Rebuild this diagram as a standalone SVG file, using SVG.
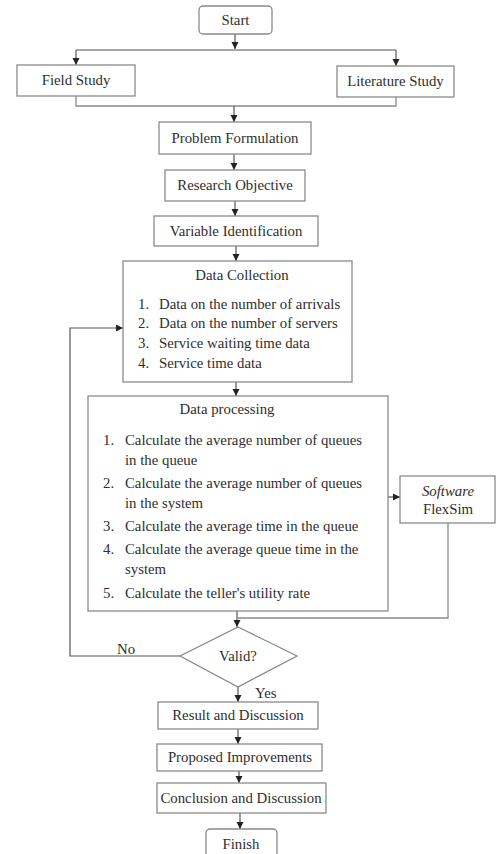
<svg xmlns="http://www.w3.org/2000/svg" width="496" height="854" viewBox="0 0 496 854">
<defs>
<marker id="ah" markerWidth="8" markerHeight="8" refX="7" refY="4" orient="auto" markerUnits="userSpaceOnUse">
<path d="M0,0.5 L7,4 L0,7.5 Z" fill="#222"/>
</marker>
</defs>
<style>
.b{fill:#fff;stroke:#8a8a8a;stroke-width:1.3}
text{font-family:'Liberation Serif','Times New Roman',Times,serif;font-size:14.8px;fill:#2e2e2e}
.c{text-anchor:middle}
.l{fill:none;stroke:#8a8a8a;stroke-width:1.3}
.a{fill:none;stroke:#555;stroke-width:1.2;marker-end:url(#ah)}
</style>
<rect width="496" height="854" fill="#fff"/>
<g id="connectors">
<line class="a" x1="235" y1="34" x2="235" y2="49"/>
<polyline class="l" points="76,50 396,50"/>
<line class="a" x1="76" y1="50" x2="76" y2="65"/>
<line class="a" x1="396" y1="50" x2="396" y2="66"/>
<polyline class="l" points="76,96 76,106 396,106 396,97"/>
<line class="a" x1="234" y1="106" x2="234" y2="122"/>
<line class="a" x1="234" y1="154" x2="234" y2="170"/>
<line class="a" x1="235" y1="201" x2="235" y2="216"/>
<line class="a" x1="236" y1="246" x2="236" y2="261"/>
<line class="a" x1="236" y1="382" x2="236" y2="396"/>
<line class="a" x1="388" y1="497" x2="400" y2="497"/>
<polyline class="l" points="448,523 448,618 238,618"/>
<line class="a" x1="237" y1="611" x2="237" y2="627"/>
<polyline class="a" points="180,656 70,656 70,328 123,328"/>
<line class="a" x1="238" y1="687" x2="238" y2="702"/>
<line class="a" x1="238" y1="729" x2="238" y2="744"/>
<line class="a" x1="239" y1="771" x2="239" y2="783"/>
<line class="a" x1="240" y1="813" x2="240" y2="829"/>
</g>
<g id="start"><rect class="b" x="199" y="6" width="73" height="28" rx="4"/><text class="c" x="235.5" y="25">Start</text></g>
<g id="field"><rect class="b" x="17" y="65" width="118" height="31"/><text class="c" x="76" y="85">Field Study</text></g>
<g id="literature"><rect class="b" x="337" y="66" width="117" height="31"/><text class="c" x="395.5" y="86">Literature Study</text></g>
<g id="problem"><rect class="b" x="159" y="122" width="152" height="32"/><text class="c" x="235" y="143">Problem Formulation</text></g>
<g id="objective"><rect class="b" x="165" y="170" width="140" height="31"/><text class="c" x="235" y="190">Research Objective</text></g>
<g id="variable"><rect class="b" x="154" y="216" width="164" height="30"/><text class="c" x="236" y="236">Variable Identification</text></g>
<g id="collection"><rect class="b" x="123" y="261" width="229" height="121"/>
<text class="c" x="242" y="280">Data Collection</text>
<text x="138" y="309">1.</text><text x="159" y="309">Data on the number of arrivals</text>
<text x="138" y="328">2.</text><text x="159" y="328">Data on the number of servers</text>
<text x="138" y="348">3.</text><text x="159" y="348">Service waiting time data</text>
<text x="138" y="368">4.</text><text x="159" y="368">Service time data</text>
</g>
<g id="processing"><rect class="b" x="88" y="396" width="300" height="215"/>
<text class="c" x="227" y="414">Data processing</text>
<text x="103" y="445">1.</text><text x="125" y="445">Calculate the average number of queues</text>
<text x="125" y="465">in the queue</text>
<text x="103" y="488">2.</text><text x="125" y="488">Calculate the average number of queues</text>
<text x="125" y="508">in the system</text>
<text x="103" y="531">3.</text><text x="125" y="531">Calculate the average time in the queue</text>
<text x="103" y="554">4.</text><text x="125" y="554">Calculate the average queue time in the</text>
<text x="125" y="574">system</text>
<text x="103" y="598">5.</text><text x="125" y="598">Calculate the teller's utility rate</text>
</g>
<g id="flexsim"><rect class="b" x="400" y="476" width="95" height="47"/>
<text class="c" x="448" y="496" font-style="italic">Software</text>
<text class="c" x="448" y="514">FlexSim</text>
</g>
<g id="valid"><polygon class="b" points="238,627 297,656 238,687 180,656"/><text class="c" x="238" y="661">Valid?</text></g>
<text x="117" y="654">No</text>
<text x="255" y="698">Yes</text>
<g id="result"><rect class="b" x="158" y="702" width="160" height="27"/><text class="c" x="238" y="720">Result and Discussion</text></g>
<g id="proposed"><rect class="b" x="157" y="744" width="165" height="27"/><text class="c" x="240" y="762">Proposed Improvements</text></g>
<g id="conclusion"><rect class="b" x="157" y="783" width="169" height="30"/><text class="c" x="241" y="803">Conclusion and Discussion</text></g>
<g id="finish"><rect class="b" x="206" y="829" width="71" height="30" rx="4"/><text class="c" x="241" y="849">Finish</text></g>
</svg>
